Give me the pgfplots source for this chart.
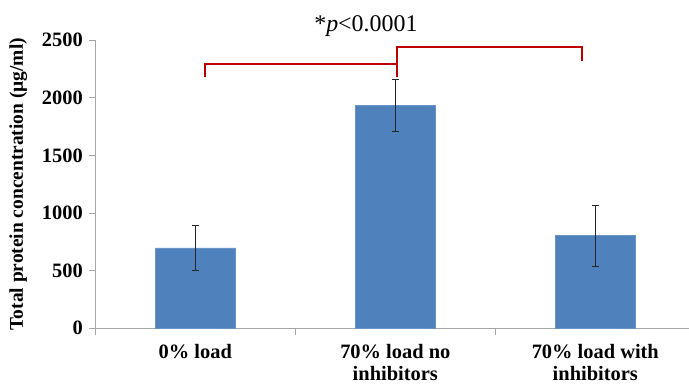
\documentclass[border=0pt]{standalone}
\usepackage{fontspec}
\setmainfont{Liberation Serif}
\usepackage{pgfplots}
\usepackage{pgfplotstable}
\pgfplotsset{compat=1.18}
\definecolor{barblue}{HTML}{4F81BD}
\definecolor{brred}{HTML}{C00000}
\definecolor{axgray}{HTML}{A6A6A6}
\pgfplotstableread{
x y e
0 697 196
1 1934 225
2 804 265
}\bardata
\begin{document}
\begin{tikzpicture}
\begin{axis}[
  scale only axis, width=593.7bp, height=288.3bp,
  xmin=-0.5, xmax=2.4685, ymin=0, ymax=2500,
  clip=false,
  axis lines*=left,
  axis line style={axgray, line width=0.8bp},
  tick align=outside,
  xtick={0,1,2},
  xticklabels={0\% load, 70\% load no\\inhibitors, 70\% load with\\inhibitors},
  minor xtick={-0.5,0.5,1.5},
  major x tick style={draw=none},
  minor x tick style={axgray, line width=0.8bp},
  minor tick length=7bp,
  major tick length=6bp,
  ytick={0,500,1000,1500,2000,2500},
  y tick style={axgray, line width=0.8bp},
  /pgf/number format/assume math mode=true,
  /pgf/number format/1000 sep={},
  xticklabel style={align=center, font=\bfseries\fontsize{20.5}{22.3}\selectfont, inner sep=0pt, outer sep=0pt, yshift=-10bp},
  yticklabel style={font=\bfseries\fontsize{20.5}{22}\selectfont, xshift=-3bp},
  ylabel={Total protein concentration (µg/ml)},
  ylabel style={font=\bfseries\fontsize{19.5}{22}\selectfont, at={(axis description cs:-0.1297,0.5)}, anchor=center},
]
\addplot[ybar, bar width=0.4, fill=barblue, draw=barblue!85!white,
  error bars/.cd, y dir=both, y explicit,
  error bar style={black!85, line width=0.9bp},
  error mark options={rotate=90, mark size=3.5bp, black!85, line width=0.9bp}]
  table[x=x, y=y, y error=e] {\bardata};
\addplot[brred, line width=2bp, no marks] coordinates {(0.05,2177) (0.05,2292) (1.0065,2292) (1.0065,2177)};
\addplot[brred, line width=2bp, no marks] coordinates {(1.0065,2303) (1.0065,2436) (1.935,2436) (1.935,2320)};
\node[font=\fontsize{24}{28}\selectfont, anchor=base] at (axis cs:0.853,2572) {*\textit{p}<0.0001};
\end{axis}
\pgfresetboundingbox
\path[use as bounding box] (-95.3bp,-56.7bp) rectangle (593.7bp,328.3bp);
\end{tikzpicture}
\end{document}
